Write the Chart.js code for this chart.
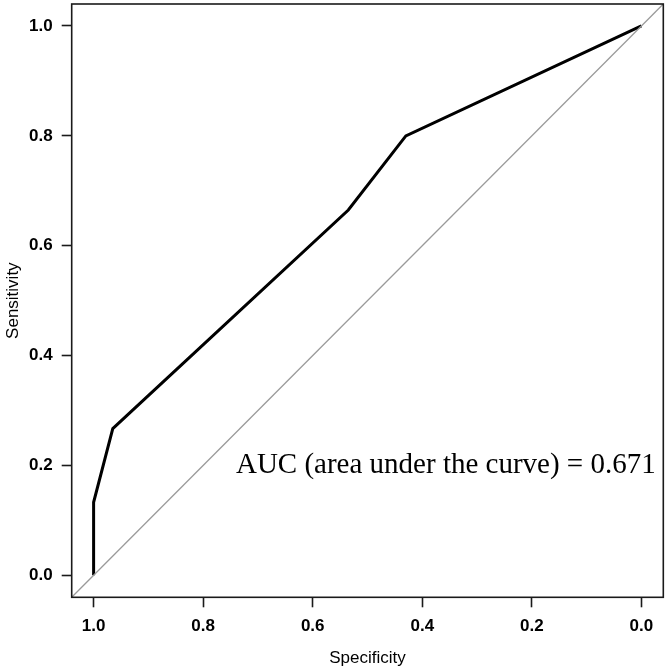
<!DOCTYPE html>
<html>
<head>
<meta charset="utf-8">
<script src="https://cdn.jsdelivr.net/npm/chart.js@4.4.0/dist/chart.umd.min.js"></script>
<style>
  html, body { margin: 0; padding: 0; background: #fff; }
</style>
</head>
<body>
<canvas id="roc" width="669" height="672"></canvas>
<script>
// ---- data ----
const specificity = [1.0, 1.0, 0.965, 0.535, 0.43, 0.0];
const sensitivity = [0.0, 0.133, 0.267, 0.665, 0.80, 1.0];
const refSpec = [1.04, -0.04];     // chance diagonal (abline 0,1 across the box)
const refSens = [-0.04, 1.04];
const tickValues = [0.0, 0.2, 0.4, 0.6, 0.8, 1.0];
const aucLabel = "AUC (area under the curve) = 0.671";
const aucPos = { spec: 0.357, sens: 0.2 };

const INK = "#1a1a1a";
const TICK_FONT = { family: "'Liberation Sans', Arial, sans-serif", size: 17, weight: "bold" };
const TITLE_FONT = { family: "'Liberation Sans', Arial, sans-serif", size: 17 };

// box around the plot region + AUC annotation
const boxAndText = {
    id: "boxAndText",
    afterDraw(chart) {
        const { ctx, chartArea: a, scales } = chart;
        ctx.save();
        ctx.strokeStyle = INK;
        ctx.lineWidth = 1.6;
        ctx.strokeRect(a.left, a.top, a.right - a.left, a.bottom - a.top);

        ctx.fillStyle = "#000";
        ctx.font = "29px 'Liberation Serif', 'Times New Roman', serif";
        ctx.textAlign = "center";
        ctx.textBaseline = "middle";
        ctx.fillText(aucLabel, scales.x.getPixelForValue(aucPos.spec), scales.y.getPixelForValue(aucPos.sens));
        ctx.restore();
    }
};

function axis(titleText, fitFn) {
    return {
        type: "linear",
        min: -0.04,
        max: 1.04,
        afterBuildTicks: s => { s.ticks = tickValues.map(v => ({ value: v })); },
        afterFit: s => {
            fitFn(s);
            // no extra edge padding for the labels, the box is fixed
            s.paddingTop = s.paddingBottom = s.paddingLeft = s.paddingRight = 0;
        },
        border: { display: false },
        grid: {
            drawOnChartArea: false,
            drawTicks: true,
            tickLength: 10,
            tickColor: INK,
            tickWidth: 1.6
        },
        ticks: {
            callback: v => Number(v).toFixed(1),
            color: "#000",
            font: TICK_FONT,
            padding: 9,
            maxRotation: 0,
            autoSkip: false
        },
        title: {
            display: true,
            text: titleText,
            color: "#000",
            font: TITLE_FONT,
            padding: { top: 3, bottom: 3 }
        }
    };
}

const xAxis = axis("Specificity", s => { s.height = 74.7; });
xAxis.reverse = true;
const yAxis = axis("Sensitivity", s => { s.width = 71.7; });

new Chart(document.getElementById("roc"), {
    type: "scatter",
    data: {
        datasets: [
            {
                data: refSpec.map((v, i) => ({ x: v, y: refSens[i] })),
                showLine: true,
                borderColor: "#9a9a9a",
                borderWidth: 1.3,
                pointRadius: 0
            },
            {
                data: specificity.map((v, i) => ({ x: v, y: sensitivity[i] })),
                showLine: true,
                borderColor: "#000",
                borderWidth: 3,
                pointRadius: 0,
                tension: 0
            }
        ]
    },
    options: {
        responsive: false,
        animation: false,
        layout: { padding: { top: 4, right: 5.7, left: 0, bottom: 0 } },
        plugins: { legend: { display: false }, tooltip: { enabled: false } },
        scales: { x: xAxis, y: yAxis }
    },
    plugins: [boxAndText]
});
</script>
</body>
</html>
